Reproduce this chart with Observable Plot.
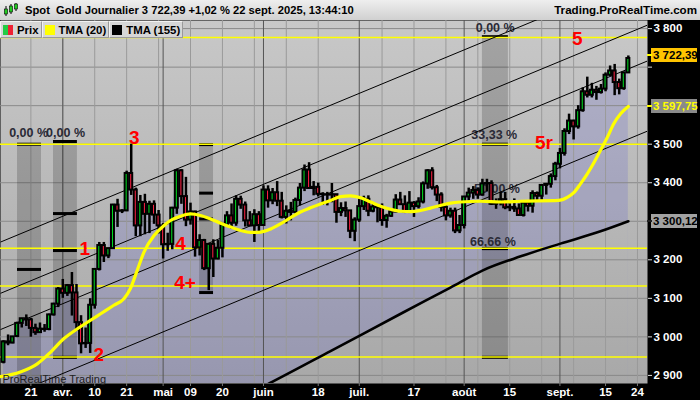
<!DOCTYPE html>
<html>
<head>
<meta charset="utf-8">
<script src="https://cdn.jsdelivr.net/npm/d3@7"></script>
<script src="https://cdn.jsdelivr.net/npm/@observablehq/plot@0.6"></script>
<style>
  html,body{margin:0;padding:0;background:#000;}
  #wrap{position:relative;width:700px;height:400px;overflow:hidden;font-family:"Liberation Sans",Arial,sans-serif;}
  #hdr{position:absolute;left:0;top:0;width:700px;height:20px;background:linear-gradient(#eeeeee,#d0d0d0);font-weight:bold;line-height:20px;color:#000;white-space:pre;}
  #hdr .title{position:absolute;left:25px;top:0;font-size:11.2px;}
  #hdr .site{position:absolute;right:3px;top:0;font-size:11.6px;}
  #hdr svg{position:absolute;left:4px;top:3px;}
  #chart{position:absolute;left:0;top:20px;}
  #legend{position:absolute;left:0;top:21px;height:17px;display:flex;font-weight:bold;font-size:11.4px;color:#000;}
  .lg{display:flex;align-items:center;background:#d6d6d6;border:1px solid #f2f2f2;border-right-color:#9a9a9a;border-bottom-color:#9a9a9a;padding:0 2px 0 2px;margin-right:0px;height:15px;}
  .sw{width:10px;height:10px;margin-right:4px;}
  .tag{position:absolute;left:651px;width:46px;height:14px;line-height:14px;font-weight:bold;font-size:11.5px;padding-left:2px;box-sizing:border-box;white-space:pre;}
  .tagtick{position:absolute;left:647px;width:5px;height:2px;}
</style>
</head>
<body>
<div id="wrap">
  <div id="hdr">
    <svg width="14" height="14"><g stroke="#000" stroke-width="1"><line x1="2" y1="3" x2="2" y2="13"/><line x1="7" y1="1" x2="7" y2="11"/><line x1="12" y1="0" x2="12" y2="8"/></g><rect x="0.5" y="6" width="3" height="5" fill="#22cc22" stroke="#000" stroke-width="0.6"/><rect x="5.5" y="3" width="3" height="6" fill="#22cc22" stroke="#000" stroke-width="0.6"/><rect x="10.5" y="1" width="3" height="5" fill="#22cc22" stroke="#000" stroke-width="0.6"/></svg>
    <span class="title" id="title"></span>
    <span class="site" id="site"></span>
  </div>
  <div id="chart"></div>
  <div id="legend"></div>
</div>
<script>
// ---------- DATA ----------
const chartTitle = "Spot  Gold Journalier 3 722,39 +1,02 % 22 sept. 2025, 13:44:10";
const siteText = "Trading.ProRealTime.com";
const legendNames = ["Prix", "TMA (20)", "TMA (155)"];

const dates = [
  "03-13","03-14","03-17","03-18","03-19","03-20","03-21","03-24","03-25","03-26","03-27","03-28","03-31",
  "04-01","04-02","04-03","04-04","04-07","04-08","04-09","04-10","04-11","04-14","04-15","04-16","04-17","04-18","04-21","04-22","04-23","04-24","04-25","04-28","04-29","04-30",
  "05-01","05-02","05-05","05-06","05-07","05-08","05-09","05-12","05-13","05-14","05-15","05-16","05-19","05-20","05-21","05-22","05-23","05-26","05-27","05-28","05-29","05-30",
  "06-02","06-03","06-04","06-05","06-06","06-09","06-10","06-11","06-12","06-13","06-16","06-17","06-18","06-19","06-20","06-23","06-24","06-25","06-26","06-27","06-30",
  "07-01","07-02","07-03","07-04","07-07","07-08","07-09","07-10","07-11","07-14","07-15","07-16","07-17","07-18","07-21","07-22","07-23","07-24","07-25","07-28","07-29","07-30","07-31",
  "08-01","08-04","08-05","08-06","08-07","08-08","08-11","08-12","08-13","08-14","08-15","08-18","08-19","08-20","08-21","08-22","08-25","08-26","08-27","08-28","08-29",
  "09-01","09-02","09-03","09-04","09-05","09-08","09-09","09-10","09-11","09-12","09-15","09-16","09-17","09-18","09-19","09-22"
];
const opens = [
  2934,2987,2984,3001,3035,3047,3044,3022,3011,3020,3019,3057,3085,
  3124,3113,3133,3114,3037,2982,2983,3082,3175,3237,3210,3229,3342,3326,3327,3424,3381,3288,3349,3318,3344,3316,
  3288,3239,3240,3334,3431,3364,3303,3324,3231,3250,3177,3240,3202,3230,3290,3314,3295,3357,3342,3301,3288,3317,
  3289,3381,3353,3374,3352,3310,3326,3323,3354,3386,3433,3385,3388,3370,3369,3368,3369,3323,3333,3327,3274,
  3303,3338,3357,3326,3337,3335,3302,3313,3324,3355,3343,3324,3347,3338,3350,3397,3431,3387,3368,3336,3314,3326,3275,
  3289,3363,3373,3380,3368,3397,3398,3344,3348,3356,3335,3336,3332,3315,3347,3339,3372,3365,3393,3396,3416,
  3448,3476,3533,3560,3545,3587,3636,3627,3640,3634,3643,3679,3690,3660,3644,3685
];
const highs = [
  2990,3005,3001,3038,3048,3057,3048,3033,3036,3032,3059,3087,3128,
  3149,3136,3167,3136,3055,3023,3099,3176,3245,3245,3230,3344,3357,3330,3430,3500,3386,3367,3370,3352,3353,3328,
  3294,3269,3336,3435,3434,3414,3347,3326,3265,3253,3240,3252,3250,3295,3325,3345,3366,3365,3350,3325,3330,3325,
  3392,3392,3385,3403,3375,3340,3349,3360,3398,3446,3452,3403,3399,3374,3375,3398,3369,3348,3350,3328,3309,
  3358,3365,3366,3345,3342,3345,3318,3330,3369,3375,3366,3377,3351,3361,3402,3434,3439,3393,3374,3345,3334,3334,3315,
  3363,3386,3390,3385,3409,3409,3405,3358,3375,3375,3346,3358,3345,3351,3351,3379,3376,3393,3398,3423,3453,
  3489,3540,3578,3562,3600,3646,3674,3658,3650,3655,3685,3703,3707,3669,3687,3729
];
const lows = [
  2930,2977,2982,2998,3023,3027,2999,3004,3011,3012,3016,3054,3076,
  3100,3105,3054,3015,2956,2970,2957,3072,3171,3193,3203,3228,3284,3320,3325,3367,3260,3260,3265,3268,3292,3267,
  3202,3222,3226,3318,3344,3286,3290,3207,3210,3172,3120,3154,3200,3205,3285,3279,3287,3331,3285,3286,3245,3271,
  3288,3334,3343,3338,3306,3293,3301,3319,3340,3377,3383,3366,3363,3341,3340,3348,3295,3312,3310,3255,3247,
  3297,3328,3312,3322,3296,3287,3282,3310,3322,3341,3320,3320,3310,3332,3345,3383,3381,3351,3324,3301,3308,3268,3268,
  3280,3346,3357,3357,3365,3376,3341,3331,3340,3330,3325,3323,3313,3311,3324,3321,3351,3351,3368,3386,3405,
  3436,3469,3525,3511,3539,3583,3620,3620,3614,3630,3636,3675,3626,3628,3640,3684
];
const closes = [
  2987,2984,3000,3035,3047,3044,3022,3011,3020,3019,3057,3085,3124,
  3113,3133,3114,3037,2982,2983,3082,3175,3237,3210,3229,3342,3326,3327,3424,3381,3288,3349,3318,3344,3316,3288,
  3239,3240,3334,3431,3364,3303,3324,3231,3250,3177,3240,3202,3230,3290,3314,3295,3357,3342,3301,3288,3317,3289,
  3381,3353,3374,3352,3310,3326,3323,3354,3386,3433,3385,3388,3370,3369,3368,3369,3323,3333,3327,3274,3303,
  3338,3357,3326,3337,3335,3302,3313,3324,3355,3343,3324,3347,3338,3350,3397,3431,3387,3368,3336,3314,3326,3275,3289,
  3363,3373,3380,3368,3397,3398,3344,3348,3356,3335,3336,3332,3315,3347,3339,3372,3365,3393,3396,3416,3448,
  3476,3533,3560,3545,3587,3636,3627,3640,3634,3643,3679,3690,3660,3644,3685,3722.39
];

// TMA(20) (bar index, price)
const tma20Idx = [-0.66,3.7,7.4,10.3,13.2,16.2,18.4,21.3,24.2,26.4,27.8,29.3,30.8,33.0,35.2,36.6,38.8,41.0,43.2,45.4,47.6,49.8,52.0,54.2,56.4,58.6,60.7,62.9,65.1,67.3,69.5,71.7,73.9,76.1,78.3,80.5,82.7,84.9,87.1,89.3,91.4,93.6,95.8,98.0,100.2,104.6,109.0,113.4,121.7,123.6,125.1,126.5,128.0,129.5,130.9,132.4,133.8,135.3,137];
const tma20Val = [2897,2909,2930,2960,2995,3021,3038,3060,3082,3099,3125,3172,3220,3263,3289,3302,3313,3319,3315,3306,3295,3285,3276,3271,3272,3280,3293,3309,3324,3335,3345,3354,3364,3366,3361,3350,3339,3331,3326,3325,3328,3334,3341,3347,3350,3352,3350,3352,3354,3362,3375,3397,3423,3453,3484,3518,3553,3579,3597.75];
// TMA(155)
const tma155Idx = [45,58.9,71.7,87.1,98.0,105.0,113.4,122.1,130.9,137];
const tma155Val = [2800,2883,2963,3060,3128,3172,3209,3242,3274,3300.12];

// horizontal levels (yellow)
const levelPrices = [3777, 3500, 3230, 3132, 2948];
// wave labels
const waveText = ["1","2","3","4","4+","5r","5"];
const waveIdx = [17.8, 20.9, 28.7, 38.8, 39.8, 118.5, 125.8];
const wavePrice = [3227, 2952, 3517, 3240, 3141, 3503, 3774];
// channel lines (start / end)
const chanIdx1 = [-0.66, -0.66, -0.66, -0.66];
const chanIdx2 = [141.2, 141.2, 141.2, 141.2];
const chanP1 = [3246, 3113, 3019, 2838];
const chanP2 = [3942, 3809, 3716, 3534];
// time zones
const zoneX1 = [3.07, 10.96, 43.0, 105.0];
const zoneX2 = [8.33, 16.2, 46.05, 110.7];
const zoneTop = [3500, 3507, 3499, 3779];
const zoneBottom = [2850, 2947, 3115, 2947];
const barZone = [0,0,1,1,1,1,2,2,2,2,3,3,3,3];
const barPrice = [3500,3175,3507,3320,3224,2947,3499,3373,3306,3115,3779,3500,3229,2947];
const zoneLabelText = ["0,00 %","0,00 %","0,00 %","33,33 %","50,00 %","66,66 %"];
const zoneLabelIdx = [5.5, 13.6, 107.8, 107.6, 108.2, 107.3];
const zoneLabelPrice = [3528, 3528, 3802, 3525, 3385, 3245];
// price tags
const tagValues = [3722.39, 3597.75, 3300.12];
const tagTexts = ["3 722,39", "3 597,75", "3 300,12"];
// axes (3 700 / 3 600 / 3 300 labels are hidden behind the price tags)
const yTicks = [2900,3000,3100,3200,3300,3400,3500,3600,3700,3800];
const yTickLabels = ["2 900","3 000","3 100","3 200","","3 400","3 500","","","3 800"];
const xTickIdx = [6,13,20,27,35,41,48,57,69,78,90,101,111,122,132,139];
const xTickLabels = ["21","avr.","10","21","mai","09","20","juin","18","juil.","17","août","15","sept.","15","24"];
const gridMinor = [6,13,20,27,34,41,48,55,62,69,83,90,97,104,111,118,125,132,139];
const gridMonth = [13,35,57,78,101,122];

// ---------- BUILD ----------
document.getElementById("title").textContent = chartTitle;
document.getElementById("site").textContent = siteText;
const legendSw = ["linear-gradient(90deg,#22cc44 50%,#ee2233 50%)", "#ffff00", "#000000"];
const lg = document.getElementById("legend");
legendNames.forEach((n, k) => {
  const b = document.createElement("div"); b.className = "lg";
  const s = document.createElement("div"); s.className = "sw"; s.style.background = legendSw[k];
  b.appendChild(s); b.appendChild(document.createTextNode(n)); lg.appendChild(b);
});

const candles = closes.map((c, i) => ({i, date: dates[i], open: opens[i], high: highs[i], low: lows[i], close: c}));
const tma20 = tma20Idx.map((x, k) => ({i: x, v: tma20Val[k]}));
const tma155 = tma155Idx.map((x, k) => ({i: x, v: tma155Val[k]}));
const waves = waveText.map((t, k) => ({t, i: waveIdx[k], p: wavePrice[k]}));
const chans = chanP1.map((p, k) => ({x1: chanIdx1[k], x2: chanIdx2[k], y1: p, y2: chanP2[k]}));
const zones = zoneX1.map((x, k) => ({x1: x, x2: zoneX2[k], y1: zoneBottom[k], y2: zoneTop[k]}));
const bars = barPrice.map((p, k) => ({x1: zoneX1[barZone[k]], x2: zoneX2[barZone[k]], y: p}));
const zlabels = zoneLabelText.map((t, k) => ({t, i: zoneLabelIdx[k], p: zoneLabelPrice[k]}));

const yMin = 2879, yMax = 3821;
const GREEN = "#00dd22", RED = "#ff2244";
const tagStyle = [
  {bg: "#ffc400", fg: "#000", tick: "#ffff00", dy: -3},
  {bg: "#8a8a8a", fg: "#ffff00", tick: "#ffff00", dy: 0},
  {bg: "#a2a2a2", fg: "#000", tick: "#222", dy: 0}
];

const defsMark = () => {
  const defs = d3.create("svg:defs");
  const g = defs.append("linearGradient").attr("id", "bgGrad").attr("gradientUnits", "userSpaceOnUse")
    .attr("x1", 0).attr("y1", 0).attr("x2", 0).attr("y2", 363);
  g.append("stop").attr("offset", "0%").attr("stop-color", "#c8c8c8");
  g.append("stop").attr("offset", "100%").attr("stop-color", "#a8a8a8");
  return defs.node();
};

const chart = Plot.plot({
  width: 700, height: 380,
  marginLeft: 0, marginRight: 53, marginTop: 0, marginBottom: 17,
  style: {background: "#000", fontFamily: "Liberation Sans, Arial, sans-serif", overflow: "visible"},
  x: {domain: [-0.66, 141.2], axis: null},
  y: {domain: [yMin, yMax], axis: null},
  marks: [
    defsMark,
    Plot.frame({fill: "url(#bgGrad)"}),
    Plot.areaY(candles, {x: "i", y1: yMin, y2: "close", fill: "#4646d6", fillOpacity: 0.17}),
    Plot.areaY(tma155, {x: "i", y1: yMin, y2: "v", fill: "url(#bgGrad)", curve: "monotone-x", clip: true}),
    Plot.ruleY(yTicks, {stroke: "#8a8a8a", strokeWidth: 1}),
    Plot.ruleX(gridMinor, {stroke: "#9a9a9a", strokeWidth: 1}),
    Plot.ruleX(gridMonth, {stroke: "#555", strokeWidth: 1}),
    Plot.rect(zones, {x1: "x1", x2: "x2", y1: "y1", y2: "y2", fill: "#000", fillOpacity: 0.18, clip: true}),
    Plot.ruleY(bars, {x1: "x1", x2: "x2", y: "y", stroke: "#000", strokeWidth: 3}),
    Plot.text(zlabels, {x: "i", y: "p", text: "t", fontWeight: "bold", fontSize: 12.5, fill: "#2a2a36"}),
    Plot.ruleY(levelPrices, {stroke: "#ffff00", strokeWidth: 1.5}),
    Plot.link(chans, {x1: "x1", x2: "x2", y1: "y1", y2: "y2", stroke: "#000", strokeWidth: 1, clip: true}),
    Plot.ruleX(candles, {x: "i", y1: "low", y2: "high", stroke: "#000", strokeWidth: 2.5}),
    Plot.rect(candles, {x1: d => d.i - 0.33, x2: d => d.i + 0.33, y1: "open", y2: "close",
      fill: d => d.close >= d.open ? GREEN : RED, stroke: "#000", strokeWidth: 2}),
    Plot.line(tma155, {x: "i", y: "v", stroke: "#000", strokeWidth: 2.6, curve: "monotone-x", clip: true}),
    Plot.line(tma20, {x: "i", y: "v", stroke: "#ffff00", strokeWidth: 3.2, curve: "monotone-x", clip: true}),
    Plot.text(waves, {x: "i", y: "p", text: "t", fill: "#ff0000", fontSize: 19, fontWeight: "bold", lineAnchor: "middle"}),
    Plot.text(["ProRealTime Trading"], {frameAnchor: "bottom-left", dx: 2, dy: -1, fill: "#222", fontSize: 11}),
    Plot.axisY(yTicks, {anchor: "right", tickFormat: d => yTickLabels[yTicks.indexOf(d)], fill: "#fff", stroke: "#ddd",
      fontWeight: "bold", fontSize: 11.5, tickSize: 4, tickPadding: 2}),
    Plot.axisX(xTickIdx, {anchor: "bottom", tickFormat: d => xTickLabels[xTickIdx.indexOf(d)], fill: "#fff", stroke: "#777",
      fontWeight: "bold", fontSize: 11.5, tickSize: 3, tickPadding: 1})
  ]
});
document.getElementById("chart").appendChild(chart);

// price tags positioned through the chart's own y scale
const sy = chart.scale("y");
const wrap = document.getElementById("wrap");
tagValues.forEach((v, k) => {
  const st = tagStyle[k];
  const yy = 20 + sy.apply(v) + st.dy;
  const t = document.createElement("div");
  t.className = "tag"; t.textContent = tagTexts[k];
  t.style.top = (yy - 7) + "px"; t.style.background = st.bg; t.style.color = st.fg;
  wrap.appendChild(t);
  const tk = document.createElement("div");
  tk.className = "tagtick"; tk.style.top = (yy - 1) + "px"; tk.style.background = st.tick;
  wrap.appendChild(tk);
});
</script>
</body>
</html>
